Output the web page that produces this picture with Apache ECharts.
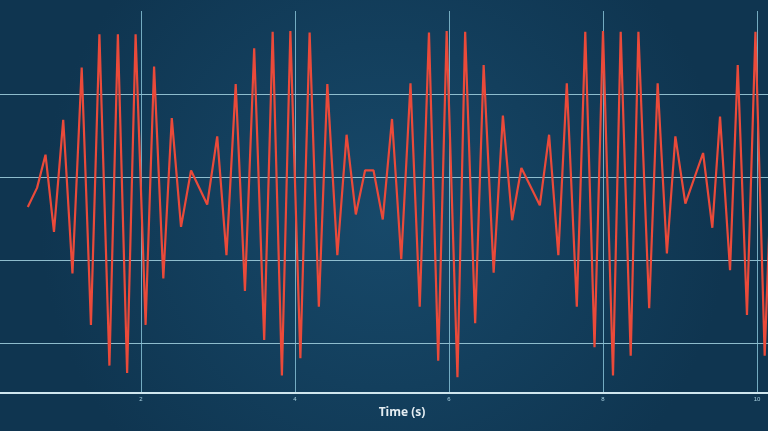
<!DOCTYPE html>
<html>
<head>
<meta charset="utf-8">
<script src="https://cdn.jsdelivr.net/npm/echarts@6/dist/echarts.min.js"></script>
<style>
html,body{margin:0;padding:0;background:#123d58;}
#chart{width:768px;height:431px;}
</style>
</head>
<body>
<div id="chart"></div>
<script>
// Time (s) of each vertex of the trace
const timeValues = [
  0.53, 0.65, 0.76, 0.87, 0.99, 1.11, 1.23, 1.35, 1.46, 1.59,
  1.70, 1.82, 1.93, 2.06, 2.17, 2.29, 2.40, 2.52, 2.65, 2.86,
  2.99, 3.11, 3.23, 3.35, 3.47, 3.60, 3.71, 3.83, 3.94, 4.07,
  4.19, 4.31, 4.42, 4.55, 4.67, 4.79, 4.91, 5.02, 5.14, 5.26,
  5.38, 5.50, 5.62, 5.74, 5.86, 5.97, 6.11, 6.21, 6.34, 6.45,
  6.58, 6.70, 6.82, 6.94, 7.18, 7.30, 7.42, 7.53, 7.66, 7.77,
  7.89, 8.00, 8.13, 8.23, 8.36, 8.46, 8.60, 8.71, 8.83, 8.94,
  9.07, 9.30, 9.42, 9.52, 9.65, 9.75, 9.87, 9.98, 10.10, 10.22
];
// Signal amplitude at each vertex
const amplitudeValues = [
  -0.36, -0.13, 0.27, -0.66, 0.69, -1.16, 1.32, -1.78, 1.72, -2.27,
  1.72, -2.36, 1.72, -1.78, 1.33, -1.22, 0.71, -0.60, 0.08, -0.33,
  0.49, -0.94, 1.12, -1.37, 1.55, -1.96, 1.75, -2.39, 1.76, -2.18,
  1.74, -1.56, 1.12, -0.94, 0.51, -0.45, 0.08, 0.08, -0.51, 0.70,
  -0.99, 1.13, -1.56, 1.74, -2.21, 1.76, -2.41, 1.75, -1.76, 1.35,
  -1.15, 0.74, -0.52, 0.11, -0.34, 0.51, -0.94, 1.13, -1.56, 1.75,
  -2.05, 1.76, -2.39, 1.75, -2.15, 1.75, -1.58, 1.13, -0.92, 0.49,
  -0.32, 0.29, -0.61, 0.73, -1.12, 1.35, -1.66, 1.75, -2.15, 0.90
];
const xTickLabels = ['2', '4', '6', '8', '10'];
const xAxisTitle = 'Time (s)';

const seriesData = timeValues.map((t, i) => [t, amplitudeValues[i]]);

const chart = echarts.init(document.getElementById('chart'), null, {renderer: 'canvas'});
chart.setOption({
  animation: false,
  backgroundColor: {
    type: 'radial', x: 0.5, y: 0.5, r: 0.8,
    colorStops: [
      {offset: 0, color: '#17496a'},
      {offset: 1, color: '#0f3550'}
    ]
  },
  grid: {left: 0, right: 0, top: 11, bottom: 38, containLabel: false},
  xAxis: {
    type: 'value',
    min: 0.169,
    max: 10.143,
    splitNumber: 5,
    name: xAxisTitle,
    nameLocation: 'middle',
    nameGap: 13,
    nameTextStyle: {
      color: '#e4edf2', fontSize: 12, fontWeight: 'bold',
      fontFamily: 'Open Sans', padding: [0, 0, 0, 36]
    },
    axisLine: {show: true, onZero: false, lineStyle: {color: '#cfe6ee', width: 2}},
    axisTick: {show: false},
    axisLabel: {
      show: true, color: '#a9d2e2', fontSize: 6, margin: 3,
      showMinLabel: false, showMaxLabel: false,
      formatter: function (v) {
        const idx = xTickLabels.indexOf(String(v));
        return idx >= 0 ? xTickLabels[idx] : '';
      }
    },
    splitLine: {
      show: true, showMinLine: false, showMaxLine: false,
      lineStyle: {color: '#86bfd3', width: 1, opacity: 0.85}
    }
  },
  yAxis: {
    type: 'value',
    min: -2.6,
    max: 2,
    splitNumber: 5,
    axisLine: {show: false},
    axisTick: {show: false},
    axisLabel: {show: false},
    splitLine: {
      show: true, showMinLine: false, showMaxLine: false,
      lineStyle: {color: '#a4d3e2', width: 1.2, opacity: 0.85}
    }
  },
  series: [{
    type: 'line',
    data: seriesData,
    showSymbol: false,
    clip: true,
    lineStyle: {color: '#ea4a3a', width: 2.2},
    z: 5
  }]
});
</script>
</body>
</html>
